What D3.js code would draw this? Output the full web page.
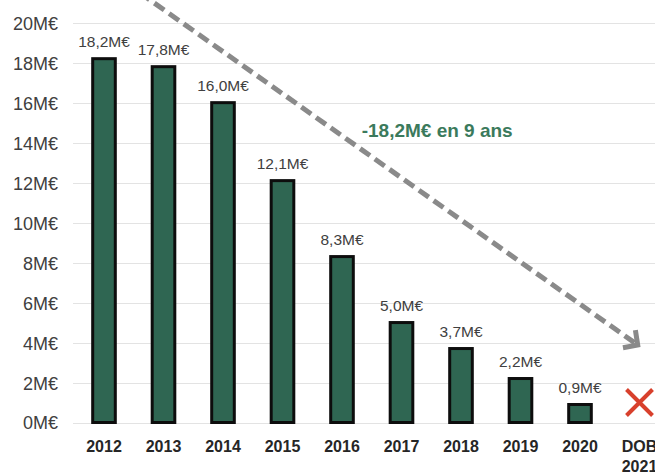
<!DOCTYPE html>
<html>
<head>
<meta charset="utf-8">
<script src="https://cdn.jsdelivr.net/npm/d3@7"></script>
<style>
  html, body { margin: 0; padding: 0; background: #fff; overflow: hidden; }
  svg { display: block; font-family: "Liberation Sans", Arial, sans-serif; }
</style>
</head>
<body>
<svg id="chart" width="655" height="473"></svg>
<script>
// Encours de dette : évolution annuelle (M€)
const categories = ["2012", "2013", "2014", "2015", "2016", "2017", "2018", "2019", "2020", "DOB 2021"];
const values = [18.2, 17.8, 16.0, 12.1, 8.3, 5.0, 3.7, 2.2, 0.9, null];
const valueLabels = ["18,2M€", "17,8M€", "16,0M€", "12,1M€", "8,3M€", "5,0M€", "3,7M€", "2,2M€", "0,9M€", ""];
const yTicks = [0, 2, 4, 6, 8, 10, 12, 14, 16, 18, 20];
const yTickLabels = ["0M€", "2M€", "4M€", "6M€", "8M€", "10M€", "12M€", "14M€", "16M€", "18M€", "20M€"];
const trendText = "-18,2M€ en 9 ans";
// trend arrow ends, as [category position, value]
const trendFrom = [0.6, 21.5];
const trendTo = [8.97, 3.88];
const trendTextAt = [5.6, 14.28];
// empty-year marker
const dobMarker = { category: "DOB 2021", value: 1.0 };

const svg = d3.select("#chart");
const W = 655, H = 473;

const x = d3.scaleBand()
  .domain(categories)
  .range([74.25, 669.25])
  .paddingInner(0.62)
  .paddingOuter(0.31);

const y = d3.scaleLinear().domain([0, 20]).range([422.5, 22.7]);

// position along the category axis for fractional indices
const step = x.step();
const xi = i => x(categories[0]) + x.bandwidth() / 2 + i * step;

// gridlines
svg.append("g")
  .selectAll("line")
  .data(yTicks)
  .join("line")
  .attr("x1", 73).attr("x2", W)
  .attr("y1", d => Math.round(y(d)) + 0.5)
  .attr("y2", d => Math.round(y(d)) + 0.5)
  .attr("stroke", "#e3e3e3")
  .attr("stroke-width", 1);

// y axis labels
const yAxis = d3.axisLeft(y)
  .tickValues(yTicks)
  .tickFormat((d, i) => yTickLabels[i])
  .tickSize(0)
  .tickPadding(0);
const gy = svg.append("g").attr("transform", "translate(58,0)").call(yAxis);
gy.select(".domain").remove();
gy.selectAll("text")
  .attr("font-family", "Liberation Sans, Arial, sans-serif")
  .attr("font-size", 18)
  .attr("fill", "#404040")
  .attr("dy", "0.36em");

// x axis labels
const xAxis = d3.axisBottom(x).tickSize(0).tickPadding(0).tickFormat("");
const gx = svg.append("g").attr("transform", "translate(0,452)").call(xAxis);
gx.select(".domain").remove();
gx.selectAll(".tick").each(function (d) {
  const parts = d.split(" ");
  const t = d3.select(this).append("text")
    .attr("text-anchor", "middle")
    .attr("font-family", "Liberation Sans, Arial, sans-serif")
    .attr("font-weight", "bold")
    .attr("font-size", 16)
    .attr("fill", "#262626");
  parts.forEach((p, k) => {
    t.append("tspan").attr("x", 0).attr("y", k * 20).text(p);
  });
});

const barData = categories.map((c, i) => ({ c, v: values[i], label: valueLabels[i] }))
  .filter(d => d.v != null);

// bars
svg.append("g")
  .selectAll("rect")
  .data(barData)
  .join("rect")
  .attr("x", d => x(d.c))
  .attr("width", x.bandwidth())
  .attr("y", d => y(d.v))
  .attr("height", d => y(0) - y(d.v))
  .attr("fill", "#2f6652")
  .attr("stroke", "#0d0d0d")
  .attr("stroke-width", 3);

// value labels
svg.append("g")
  .selectAll("text")
  .data(barData)
  .join("text")
  .attr("x", d => x(d.c) + x.bandwidth() / 2)
  .attr("y", d => y(d.v) - 12)
  .attr("text-anchor", "middle")
  .attr("font-size", 15.5)
  .attr("fill", "#404040")
  .text(d => d.label);

// trend arrow
const p0 = [xi(trendFrom[0]), y(trendFrom[1])];
const p1 = [xi(trendTo[0]), y(trendTo[1])];
const ang = Math.atan2(p1[1] - p0[1], p1[0] - p0[0]);
const headLen = 15;
const lineEnd = [p1[0] - Math.cos(ang) * 4, p1[1] - Math.sin(ang) * 4];
svg.append("line")
  .attr("x1", p0[0]).attr("y1", p0[1])
  .attr("x2", lineEnd[0]).attr("y2", lineEnd[1])
  .attr("stroke", "#8a8a8a")
  .attr("stroke-width", 5)
  .attr("stroke-dasharray", "12,6");
const a1 = ang + Math.PI - 0.8, a2 = ang + Math.PI + 0.8;
svg.append("path")
  .attr("d", d3.line()([
    [p1[0] + Math.cos(a1) * headLen, p1[1] + Math.sin(a1) * headLen],
    p1,
    [p1[0] + Math.cos(a2) * headLen, p1[1] + Math.sin(a2) * headLen]
  ]))
  .attr("fill", "none")
  .attr("stroke", "#8a8a8a")
  .attr("stroke-width", 5)
  .attr("stroke-linejoin", "miter");

// trend annotation
svg.append("text")
  .attr("x", xi(trendTextAt[0]))
  .attr("y", y(trendTextAt[1]))
  .attr("text-anchor", "middle")
  .attr("font-weight", "bold")
  .attr("font-size", 19)
  .attr("fill", "#3b7a5c")
  .text(trendText);

// DOB marker: red cross
const mx = x(dobMarker.category) + x.bandwidth() / 2;
const my = y(dobMarker.value);
const r = 13;
svg.append("path")
  .attr("d", `M${mx - r},${my - r}L${mx + r},${my + r}M${mx + r},${my - r}L${mx - r},${my + r}`)
  .attr("stroke", "#d8402c")
  .attr("stroke-width", 4)
  .attr("fill", "none");
</script>
</body>
</html>
